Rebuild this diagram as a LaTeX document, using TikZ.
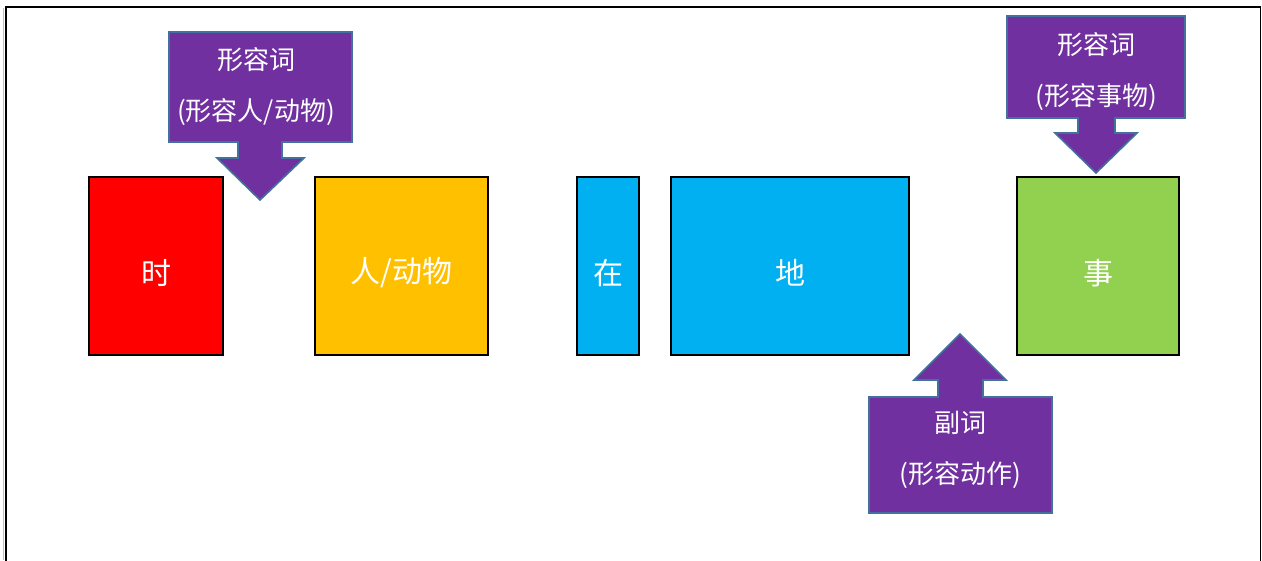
\documentclass[tikz,border=0pt]{standalone}
\usepackage{fontspec}
\newfontfamily\cjk{Noto Sans CJK SC}
\definecolor{cred}{HTML}{FF0000}
\definecolor{corange}{HTML}{FFC000}
\definecolor{ccyan}{HTML}{00B0F0}
\definecolor{cgreen}{HTML}{92D050}
\definecolor{cpurple}{HTML}{7030A0}
\definecolor{cedge}{HTML}{41719C}
\tikzset{
  wordbox/.style={draw=black, line width=1.8pt, inner sep=0pt},
  wordtext/.style={text=white, inner sep=0pt, font=\cjk\fontsize{30}{32}\selectfont},
  callout/.style={fill=cpurple, draw=cedge, line width=1.6pt, line join=miter},
  callouttext/.style={text=white, align=center, font=\cjk\fontsize{26}{51}\selectfont, inner sep=0pt}
}
\begin{document}
\begin{tikzpicture}[x=1pt,y=-1pt]
\useasboundingbox (0,0) rectangle (1262,560);
\fill[white] (0,0) rectangle (1262,560);
% frame
\draw[gray!50, line width=1pt] (3.5,8) -- (3.5,560);
\draw[black, line width=1.6pt] (5.8,562) -- (5.8,6.8) -- (1260.5,6.8) -- (1260.5,562);
% word boxes
\node[wordbox, fill=cred, minimum width=134pt, minimum height=178pt] (shi) at (156,266) {};
\node[wordbox, fill=corange, minimum width=173pt, minimum height=178pt] (ren) at (401.5,266) {};
\node[wordbox, fill=ccyan, minimum width=62pt, minimum height=178pt] (zai) at (608,266) {};
\node[wordbox, fill=ccyan, minimum width=238pt, minimum height=178pt] (di) at (790,266) {};
\node[wordbox, fill=cgreen, minimum width=162pt, minimum height=178pt] (shii) at (1098,266) {};
\node[wordtext] (tshi) at ([yshift=-7pt]shi.center) {时};
\node[wordtext] (tren) at ([yshift=-7pt]ren.center) {人/动物};
\node[wordtext] (tzai) at ([yshift=-7pt]zai.center) {在};
\node[wordtext] (tdi) at ([yshift=-7pt]di.center) {地};
\node[wordtext] (tshii) at ([yshift=-7pt]shii.center) {事};
% callout 1 (down)
\draw[callout] (169,32) -- (352,32) -- (352,142) -- (282,142) -- (282,158) -- (304,158) -- (260,200) -- (217,158) -- (238,158) -- (238,142) -- (169,142) -- cycle;
\node[callouttext] (c1) at (256,87) {形容词\\(形容人/动物)};
% callout 3 (down)
\draw[callout] (1007,16) -- (1185,16) -- (1185,118) -- (1115,118) -- (1115,133) -- (1137,133) -- (1096,173) -- (1055,133) -- (1078,133) -- (1078,118) -- (1007,118) -- cycle;
\node[callouttext] (c3) at (1096,72) {形容词\\(形容事物)};
% callout 2 (up)
\draw[callout] (869,397) -- (938,397) -- (938,380) -- (914,380) -- (960,334) -- (1006,380) -- (983,380) -- (983,397) -- (1052,397) -- (1052,513) -- (869,513) -- cycle;
\node[callouttext] (c2) at (960,450) {副词\\(形容动作)};
\end{tikzpicture}
\end{document}
